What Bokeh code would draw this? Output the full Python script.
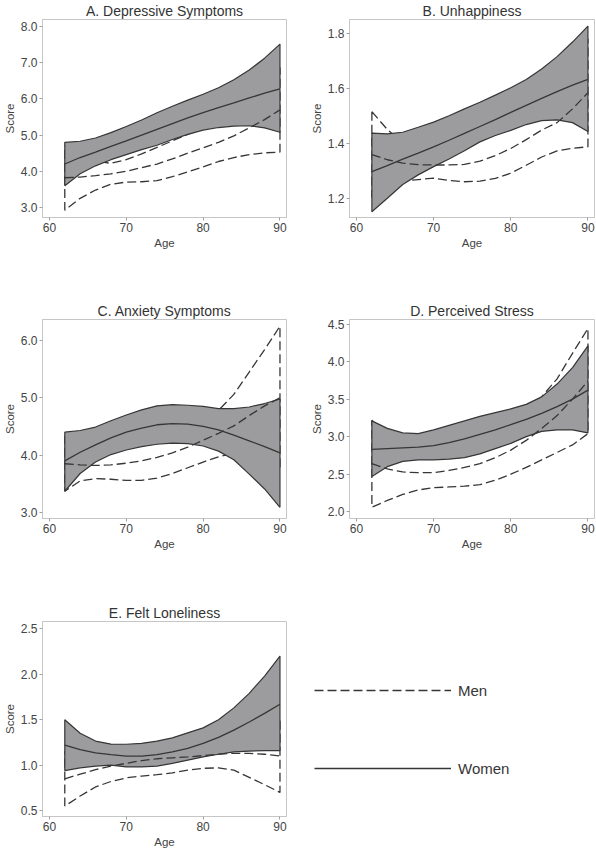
from bokeh.plotting import figure
from bokeh.layouts import column, row
from bokeh.models import Range1d, NumeralTickFormatter, Legend, LegendItem
from bokeh.embed import file_html
from bokeh.resources import INLINE

FONT = "Liberation Sans"
DARK = "#363636"
BAND = "#9c9c9e"
FRAME = "#c6c6c6"
TICK = "#a0a0a0"
TXT = "#444444"
DASH = "9 4"

# ---------------- data ----------------
ages = [62, 64, 66, 68, 70, 72, 74, 76, 78, 80, 82, 84, 86, 88, 90]
x_ticks = [60, 70, 80, 90]

# A. Depressive Symptoms
a_w_hi = [4.80, 4.83, 4.92, 5.07, 5.24, 5.42, 5.62, 5.80, 5.97, 6.13, 6.31, 6.53, 6.80, 7.13, 7.52]
a_w_lo = [3.60, 3.93, 4.15, 4.32, 4.46, 4.60, 4.72, 4.88, 5.02, 5.14, 5.21, 5.25, 5.26, 5.20, 5.08]
a_w_mean = [4.20, 4.38, 4.53, 4.69, 4.84, 5.00, 5.16, 5.32, 5.48, 5.62, 5.76, 5.89, 6.03, 6.16, 6.28]
a_m_mean = [3.82, 3.84, 3.88, 3.93, 4.00, 4.10, 4.20, 4.34, 4.50, 4.65, 4.80, 4.98, 5.20, 5.43, 5.70]
a_m_lo = [2.92, 3.25, 3.48, 3.64, 3.70, 3.71, 3.74, 3.85, 3.98, 4.12, 4.27, 4.38, 4.46, 4.51, 4.53]
a_m_hi = [4.72, 4.45, 4.28, 4.22, 4.32, 4.48, 4.66, 4.84, 5.02, 5.18, 5.35, 5.60, 5.90, 6.35, 6.87]
a_yticks = [3, 4, 5, 6, 7, 8]

# B. Unhappiness
b_w_hi = [1.437, 1.434, 1.440, 1.458, 1.477, 1.500, 1.525, 1.549, 1.575, 1.602, 1.632, 1.670, 1.715, 1.768, 1.826]
b_w_lo = [1.151, 1.200, 1.250, 1.285, 1.315, 1.343, 1.373, 1.405, 1.428, 1.447, 1.468, 1.482, 1.485, 1.475, 1.443]
b_w_mean = [1.297, 1.319, 1.342, 1.364, 1.387, 1.411, 1.436, 1.461, 1.486, 1.512, 1.538, 1.563, 1.588, 1.611, 1.632]
b_m_mean = [1.359, 1.340, 1.328, 1.322, 1.321, 1.321, 1.323, 1.335, 1.355, 1.381, 1.413, 1.448, 1.475, 1.525, 1.584]
b_m_lo = [1.203, 1.232, 1.262, 1.268, 1.273, 1.265, 1.260, 1.262, 1.272, 1.291, 1.320, 1.350, 1.372, 1.382, 1.387]
b_m_hi = [1.515, 1.450, 1.400, 1.375, 1.370, 1.377, 1.390, 1.410, 1.440, 1.470, 1.505, 1.546, 1.590, 1.668, 1.780]
b_yticks = [1.2, 1.4, 1.6, 1.8]

# C. Anxiety Symptoms
c_w_hi = [4.40, 4.43, 4.49, 4.60, 4.70, 4.79, 4.86, 4.88, 4.87, 4.85, 4.81, 4.81, 4.84, 4.90, 4.98]
c_w_lo = [3.37, 3.68, 3.88, 4.01, 4.09, 4.15, 4.19, 4.21, 4.20, 4.16, 4.07, 3.92, 3.67, 3.41, 3.09]
c_w_mean = [3.90, 4.05, 4.18, 4.30, 4.40, 4.47, 4.53, 4.55, 4.54, 4.50, 4.44, 4.35, 4.25, 4.15, 4.04]
c_m_mean = [3.85, 3.83, 3.82, 3.83, 3.86, 3.90, 3.96, 4.04, 4.14, 4.26, 4.38, 4.51, 4.69, 4.86, 5.00]
c_m_lo = [3.37, 3.55, 3.59, 3.58, 3.56, 3.56, 3.60, 3.68, 3.78, 3.88, 3.97, 4.04, 4.05, 3.95, 3.75]
c_m_hi = [4.33, 4.11, 4.05, 4.08, 4.16, 4.24, 4.32, 4.40, 4.50, 4.64, 4.78, 5.06, 5.45, 5.84, 6.25]
c_yticks = [3, 4, 5, 6]

# D. Perceived Stress
d_w_hi = [3.21, 3.11, 3.05, 3.04, 3.09, 3.15, 3.21, 3.27, 3.32, 3.37, 3.43, 3.53, 3.70, 3.92, 4.21]
d_w_lo = [2.47, 2.60, 2.67, 2.69, 2.69, 2.70, 2.72, 2.77, 2.84, 2.91, 3.00, 3.07, 3.09, 3.09, 3.05]
d_w_mean = [2.83, 2.84, 2.85, 2.86, 2.88, 2.92, 2.97, 3.03, 3.09, 3.16, 3.23, 3.31, 3.40, 3.50, 3.62]
d_m_mean = [2.64, 2.57, 2.53, 2.52, 2.52, 2.55, 2.59, 2.64, 2.72, 2.82, 2.95, 3.11, 3.28, 3.50, 3.74]
d_m_lo = [2.06, 2.15, 2.23, 2.29, 2.32, 2.33, 2.34, 2.36, 2.42, 2.50, 2.59, 2.69, 2.79, 2.89, 3.04]
d_m_hi = [3.22, 2.99, 2.83, 2.75, 2.72, 2.77, 2.84, 2.92, 3.02, 3.14, 3.31, 3.53, 3.77, 4.11, 4.44]
d_yticks = [2.0, 2.5, 3.0, 3.5, 4.0, 4.5]

# E. Felt Loneliness
e_w_hi = [1.50, 1.35, 1.265, 1.232, 1.23, 1.24, 1.265, 1.30, 1.355, 1.41, 1.50, 1.63, 1.79, 1.98, 2.20]
e_w_lo = [0.94, 0.97, 0.99, 1.00, 0.98, 0.98, 0.99, 1.02, 1.055, 1.09, 1.12, 1.145, 1.155, 1.16, 1.16]
e_w_mean = [1.22, 1.17, 1.135, 1.115, 1.10, 1.10, 1.115, 1.145, 1.185, 1.24, 1.305, 1.385, 1.475, 1.57, 1.67]
e_m_mean = [0.85, 0.90, 0.95, 0.99, 1.02, 1.05, 1.07, 1.08, 1.09, 1.105, 1.12, 1.13, 1.13, 1.12, 1.10]
e_m_lo = [0.55, 0.66, 0.76, 0.82, 0.86, 0.88, 0.895, 0.915, 0.945, 0.965, 0.97, 0.945, 0.865, 0.785, 0.70]
e_m_hi = [1.15, 1.14, 1.14, 1.16, 1.18, 1.22, 1.245, 1.245, 1.235, 1.245, 1.27, 1.315, 1.395, 1.455, 1.50]
e_yticks = [0.5, 1.0, 1.5, 2.0, 2.5]

legend_labels = ["Men", "Women"]


def panel(title, yr, yticks, w_hi, w_lo, w_mean, m_hi, m_lo, m_mean,
          width, height, bl, br, bt, bb):
    p = figure(width=width, height=height,
               x_range=Range1d(59.1, 90.85), y_range=Range1d(*yr),
               output_backend="svg", toolbar_location=None,
               min_border_left=bl, min_border_right=br,
               min_border_top=bt, min_border_bottom=bb)
    p.title.text = title
    p.title.text_font = FONT
    p.title.text_font_size = "14px"
    p.title.text_font_style = "normal"
    p.title.text_color = "#333333"
    p.title.align = "center"
    p.title.offset = -20
    p.title.standoff = 1
    p.xgrid.visible = False
    p.ygrid.visible = False
    p.outline_line_color = FRAME
    p.background_fill_color = "white"
    p.border_fill_color = "white"
    p.xaxis.ticker = x_ticks
    p.yaxis.ticker = yticks
    p.yaxis.formatter = NumeralTickFormatter(format="0.0")
    p.xaxis.axis_label = "Age"
    p.yaxis.axis_label = "Score"
    for ax in p.axis:
        ax.axis_line_color = FRAME
        ax.major_tick_line_color = TICK
        ax.major_tick_out = 3
        ax.major_tick_in = 0
        ax.minor_tick_line_color = None
        ax.major_label_text_font = FONT
        ax.major_label_text_font_size = "12px"
        ax.major_label_text_color = TXT
        ax.major_label_standoff = 2
        ax.axis_label_text_font = FONT
        ax.axis_label_text_font_size = "11.5px"
        ax.axis_label_text_font_style = "normal"
        ax.axis_label_text_color = TXT
        ax.axis_label_standoff = 2
    xs = ages + ages[::-1]
    # men's confidence band (outline only, dashed)
    p.patch(xs, m_hi + m_lo[::-1], fill_color=None, line_color=DARK,
            line_width=1.3, line_dash=DASH)
    # women's confidence band (filled)
    p.patch(xs, w_hi + w_lo[::-1], fill_color=BAND, line_color=DARK,
            line_width=1.2)
    p.line(ages, m_mean, line_color=DARK, line_width=1.3, line_dash=DASH)
    p.line(ages, w_mean, line_color=DARK, line_width=1.3)
    return p


pA = panel("A. Depressive Symptoms", (2.72, 8.2), a_yticks,
           a_w_hi, a_w_lo, a_w_mean, a_m_hi, a_m_lo, a_m_mean,
           300, 300, 39, 14, 17, 83)
pB = panel("B. Unhappiness", (1.13, 1.85), b_yticks,
           b_w_hi, b_w_lo, b_w_mean, b_m_hi, b_m_lo, b_m_mean,
           296, 300, 49, 2, 17, 83)
pC = panel("C. Anxiety Symptoms", (2.895, 6.366), c_yticks,
           c_w_hi, c_w_lo, c_w_mean, c_m_hi, c_m_lo, c_m_mean,
           300, 302, 39, 14, 19, 84)
pD = panel("D. Perceived Stress", (1.91, 4.56), d_yticks,
           d_w_hi, d_w_lo, d_w_mean, d_m_hi, d_m_lo, d_m_mean,
           296, 302, 49, 2, 19, 84)
pE = panel("E. Felt Loneliness", (0.435, 2.58), e_yticks,
           e_w_hi, e_w_lo, e_w_mean, e_m_hi, e_m_lo, e_m_mean,
           300, 250, 39, 14, 19, 36)

# legend panel (legend-only renderers carry no visible data)
nan = float("nan")
lf = figure(width=296, height=250, x_range=Range1d(0, 1), y_range=Range1d(0, 1),
            x_axis_type=None, y_axis_type=None, output_backend="svg",
            toolbar_location=None, min_border=0)
lf.outline_line_color = None
r_men = lf.line(x=[nan, nan], y=[nan, nan], line_color=DARK, line_width=1.3, line_dash=DASH)
r_women = lf.line(x=[nan, nan], y=[nan, nan], line_color=DARK, line_width=1.3)
leg = Legend(items=[LegendItem(label=legend_labels[0], renderers=[r_men]),
                    LegendItem(label=legend_labels[1], renderers=[r_women])],
             location=(14, 38), glyph_width=137, glyph_height=20, label_height=20,
             spacing=58, padding=0, margin=0, border_line_color=None,
             background_fill_alpha=0, label_text_font=FONT,
             label_text_font_size="15px", label_text_color=DARK, label_standoff=7)
lf.add_layout(leg)

layout = column(row(pA, pB), row(pC, pD), row(pE, lf))

open("out.html", "w").write(file_html(layout, INLINE))
